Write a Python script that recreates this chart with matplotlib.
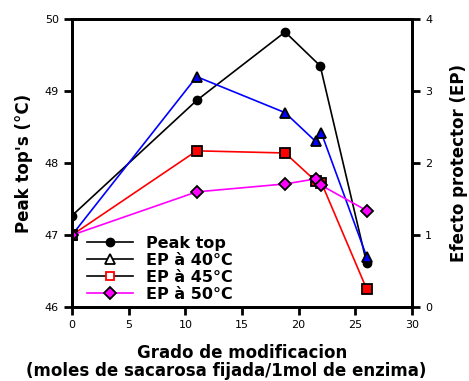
import matplotlib
matplotlib.use("Agg")
import matplotlib.pyplot as plt
from matplotlib.lines import Line2D

plt.rcParams['font.family'] = ['DejaVu Sans']

# grado de modificacion
x_peak = [0, 11, 18.8, 21.9, 26]
peak_top = [47.27, 48.87, 49.82, 49.35, 46.61]

x_ep = [0, 11, 18.8, 21.5, 22, 26]
ep40 = [1.0, 3.2, 2.7, 2.3, 2.42, 0.7]
ep45 = [1.0, 2.17, 2.14, 1.75, 1.73, 0.25]
ep50 = [1.0, 1.6, 1.71, 1.78, 1.69, 1.34]

fig = plt.figure(figsize=(4.69, 3.81), dpi=100)
ax = fig.add_axes([0.1535, 0.194, 0.725, 0.756])
ax2 = ax.twinx()

ax.plot(x_peak, peak_top, color='black', lw=1.2, marker='o', ms=6,
        mfc='black', mec='black', zorder=5)
ax2.plot(x_ep, ep40, color='blue', lw=1.2, marker='^', ms=7.5,
         mfc='blue', mec='black', mew=1.3)
ax2.plot(x_ep, ep45, color='red', lw=1.2, marker='s', ms=6.5,
         mfc='red', mec='black', mew=1.3)
ax2.plot(x_ep, ep50, color='magenta', lw=1.2, marker='D', ms=6,
         mfc='magenta', mec='black', mew=1.3)

ax.set_xlim(0, 30)
ax.set_ylim(46, 50)
ax2.set_ylim(0, 4)
ax.set_xticks([0, 5, 10, 15, 20, 25, 30])
ax.set_yticks([46, 47, 48, 49, 50])
ax2.set_yticks([0, 1, 2, 3, 4])

for a in (ax, ax2):
    for s in a.spines.values():
        s.set_linewidth(2)
    a.tick_params(width=2, length=5.5, labelsize=8, pad=4)

ax.set_ylabel("Peak top's (°C)", fontsize=12, fontweight='bold', labelpad=8)
ax2.set_ylabel("Efecto protector (EP)", fontsize=12, fontweight='bold', labelpad=13)
ax.set_xlabel("Grado de modificacion", fontsize=12, fontweight='bold', labelpad=10)
fig.text(226 / 469, 1 - 371 / 381, "(moles de sacarosa fijada/1mol de enzima)",
         fontsize=12, fontweight='bold', ha='center', va='center')

handles = [
    Line2D([], [], color='black', lw=1.2, marker='o', ms=6, mfc='black', mec='black'),
    Line2D([], [], color='black', lw=1.2, marker='^', ms=6.5, mfc='white', mec='black', mew=1.3),
    Line2D([], [], color='black', lw=1.2, marker='s', ms=6, mfc='white', mec='red', mew=1.3),
    Line2D([], [], color='magenta', lw=1.2, marker='D', ms=6, mfc='magenta', mec='black', mew=1.3),
]
labels = ["Peak top", "EP à 40°C", "EP à 45°C", "EP à 50°C"]
leg = ax2.legend(handles, labels, loc='lower left', bbox_to_anchor=(0.015, -0.015),
                 frameon=False, handlelength=2.9, handletextpad=0.8,
                 labelspacing=0.12, borderaxespad=0.2,
                 prop={'weight': 'bold', 'size': 11.5})

fig.savefig("out.png", dpi=100)
